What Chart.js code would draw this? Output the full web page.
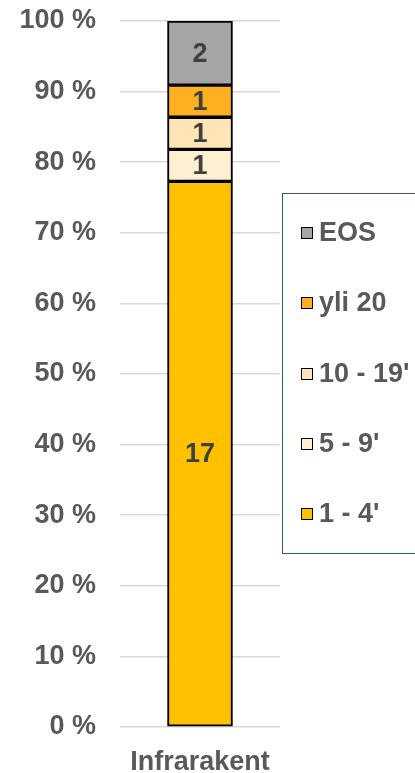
<!DOCTYPE html>
<html>
<head>
<meta charset="utf-8">
<script src="https://cdn.jsdelivr.net/npm/chart.js@4/dist/chart.umd.min.js"></script>
<style>
  html, body { margin: 0; padding: 0; background: #fff; }
  #wrap { position: relative; width: 415px; height: 773px; overflow: hidden; }
  #js-legend {
    position: absolute; left: 282px; top: 193px; width: 150px; height: 361px;
    border: 1.5px solid #2F5597; box-sizing: border-box;
  }
  #js-legend ul { list-style: none; margin: 0; padding: 0; }
  #js-legend li {
    position: absolute; left: 18px; height: 30px; line-height: 30px;
    font: bold 27px "Liberation Sans", Arial, sans-serif; color: #595959; white-space: nowrap;
  }
  #js-legend .swatch {
    display: inline-block; width: 10px; height: 10px; border: 1.5px solid #000;
    margin-right: 6px; vertical-align: 2px;
  }
</style>
</head>
<body>
<div id="wrap">
  <canvas id="stack-chart" width="415" height="773"></canvas>
  <div id="js-legend"></div>
</div>
<script>
// category and series
const categories = ["Infrarakent"];
const seriesNames = ["1 - 4'", "5 - 9'", "10 - 19'", "yli 20", "EOS"];
const seriesCounts = [17, 1, 1, 1, 2];
const seriesColours = ["#FFC000", "#FFF0D2", "#FFE5B5", "#FFB020", "#A5A5A5"];
const yTicks = [0, 10, 20, 30, 40, 50, 60, 70, 80, 90, 100];

const total = seriesCounts.reduce((a, b) => a + b, 0);
const fontFamily = '"Liberation Sans", Arial, sans-serif';

const datasets = seriesNames.map((name, i) => ({
  label: name,
  data: [seriesCounts[i] / total * 100],
  count: seriesCounts[i],
  backgroundColor: seriesColours[i],
  borderColor: "#000",
  borderWidth: 2,
  borderSkipped: false,
  barThickness: 65
}));

// draws the counts in the middle of each segment
const countLabels = {
  id: "countLabels",
  afterDatasetsDraw(chart) {
    const ctx = chart.ctx;
    ctx.save();
    ctx.font = "bold 27px " + fontFamily;
    ctx.fillStyle = "#404040";
    ctx.textAlign = "center";
    ctx.textBaseline = "middle";
    chart.data.datasets.forEach((ds, i) => {
      const bar = chart.getDatasetMeta(i).data[0];
      const c = bar.getCenterPoint();
      ctx.fillText(String(ds.count), c.x, c.y + 1);
    });
    ctx.restore();
  }
};

const chart = new Chart(document.getElementById("stack-chart"), {
  type: "bar",
  data: { labels: categories, datasets: datasets },
  options: {
    responsive: false,
    animation: false,
    layout: { padding: { top: 21, right: 135, left: 0, bottom: 0 } },
    plugins: { legend: { display: false }, tooltip: { enabled: false } },
    scales: {
      x: {
        stacked: true,
        grid: { display: false, drawTicks: false },
        border: { display: false },
        ticks: { padding: 19, color: "#595959", font: { family: fontFamily, size: 27, weight: "bold" } },
        afterFit(scale) { scale.height = 46; }
      },
      y: {
        stacked: true,
        min: 0,
        max: 100,
        afterBuildTicks(scale) { scale.ticks = yTicks.map(v => ({ value: v })); },
        grid: { color: "#D9D9D9", lineWidth: 1.5, drawTicks: false },
        border: { display: false },
        ticks: {
          padding: 24,
          color: "#595959",
          font: { family: fontFamily, size: 27, weight: "bold" },
          callback: v => v + " %"
        },
        afterFit(scale) {
          scale.width = 120;
          // no extra room for half labels, top comes from layout padding
          scale.paddingTop = 0;
          scale.paddingBottom = 0;
        }
      }
    }
  },
  plugins: [countLabels]
});

// html legend, reverse order like the stack
const legendBox = document.getElementById("js-legend");
const ul = document.createElement("ul");
const order = chart.data.datasets.map((d, i) => i).reverse();
order.forEach((i, k) => {
  const ds = chart.data.datasets[i];
  ul.innerHTML += `<li style="top:${23 + k * 70.3}px"><span class="swatch" style="background:${ds.backgroundColor}"></span>${ds.label}</li>`;
});
legendBox.appendChild(ul);
</script>
</body>
</html>
